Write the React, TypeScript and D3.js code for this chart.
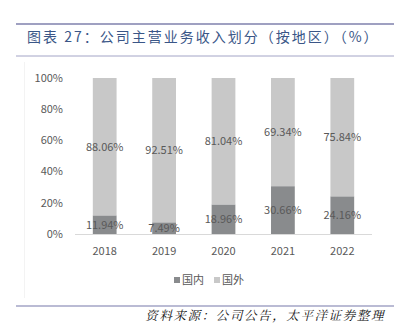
import React from "react";
import * as d3 from "d3";

const years = ["2018", "2019", "2020", "2021", "2022"];
const domestic = [11.94, 7.49, 18.96, 30.66, 24.16];
const foreign = [88.06, 92.51, 81.04, 69.34, 75.84];
const yTicks = [0, 20, 40, 60, 80, 100];
const seriesNames = ["国内", "国外"];
const colors = ["#898b8d", "#c8c8c8"];

export default function App() {
  const W = 406, H = 336;
  const x = d3.scaleBand<string>().domain(years).range([75, 372]).paddingInner(0.6).paddingOuter(0.3);
  const y = d3.scaleLinear().domain([0, 100]).range([234, 78]);
  const font = "'Microsoft YaHei', 'Noto Sans CJK SC', 'Open Sans', sans-serif";
  return (
    <svg width={W} height={H} style={{ position: "absolute", left: 0, top: 0 }}>
      <rect width={W} height={H} fill="#fff" />
      <line x1={16} x2={394} y1={24} y2={24} stroke="#7f80ad" strokeWidth={1.5} />
      <text x={27} y={42} fontSize={14} fill="#3a5687" fontFamily="'Noto Sans CJK SC', sans-serif" letterSpacing={2}>
        图表 27：公司主营业务收入划分（按地区）（%）
      </text>
      <line x1={16} x2={394} y1={56} y2={56} stroke="#a3a4c6" strokeWidth={1} />
      <line x1={24.5} x2={24.5} y1={62} y2={298} stroke="#f3f3f3" />
      {yTicks.map((t) => (
        <text key={t} x={63} y={y(t)} dy="0.35em" textAnchor="end" fontSize={11} fill="#595959" fontFamily={font}>
          {t}%
        </text>
      ))}
      {years.map((yr, i) => {
        const bx = x(yr)!;
        const bw = x.bandwidth();
        const d = domestic[i];
        const f = foreign[i];
        return (
          <g key={yr}>
            <rect x={bx} width={bw} y={y(d)} height={y(0) - y(d)} fill={colors[0]} />
            <rect x={bx} width={bw} y={y(d + f)} height={y(d) - y(d + f)} fill={colors[1]} />
            <text x={bx + bw / 2} y={y(d / 2)} dy="0.35em" textAnchor="middle" fontSize={11} fill="#595959" fontFamily={font}>
              {d.toFixed(2)}%
            </text>
            <text x={bx + bw / 2} y={y(d + f / 2)} dy="0.35em" textAnchor="middle" fontSize={11} fill="#595959" fontFamily={font}>
              {f.toFixed(2)}%
            </text>
            <text x={bx + bw / 2} y={251} dy="0.35em" textAnchor="middle" fontSize={11} fill="#595959" fontFamily={font}>
              {yr}
            </text>
          </g>
        );
      })}
      <line x1={75} x2={372} y1={234.5} y2={234.5} stroke="#d9d9d9" strokeWidth={1} />
      {seriesNames.map((n, i) => (
        <g key={n} transform={`translate(${174 + i * 40},280)`}>
          <rect x={0} y={-3} width={6} height={6} fill={colors[i]} />
          <text x={8} y={0} dy="0.35em" fontSize={11} fill="#595959" fontFamily={font}>{n}</text>
        </g>
      ))}
      <line x1={16} x2={394} y1={306} y2={306} stroke="#a3a4c6" strokeWidth={1.5} />
      <text x={385} y={320} textAnchor="end" fontSize={12.5} fontStyle="italic" fill="#111" fontFamily="'Noto Serif CJK SC', 'Noto Sans CJK SC', serif" letterSpacing={1.6}>
        资料来源：公司公告，太平洋证券整理
      </text>
    </svg>
  );
}
